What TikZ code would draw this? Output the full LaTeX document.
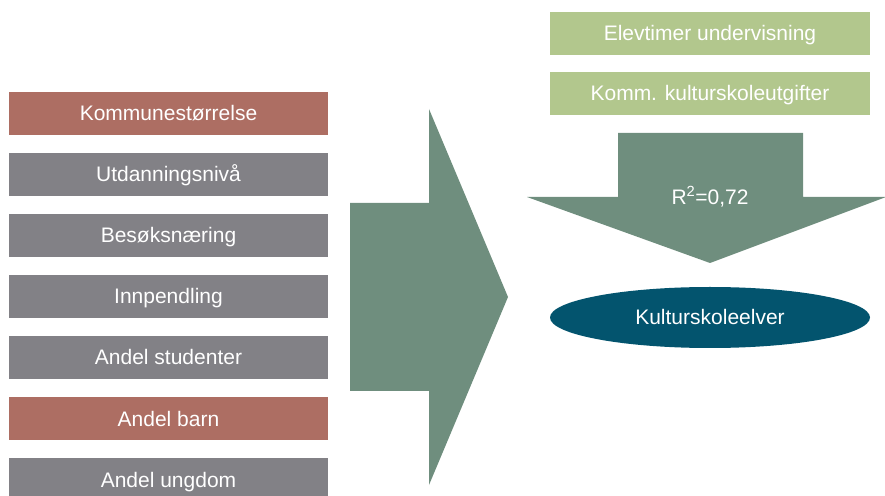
\documentclass[tikz,border=0pt]{standalone}
\usepackage{fontspec}
\setmainfont{Liberation Sans}
\usetikzlibrary{positioning,shapes.geometric}

\definecolor{faktorrod}{HTML}{AD6E63}
\definecolor{faktorgraa}{HTML}{828186}
\definecolor{lysgronn}{HTML}{B2C78D}
\definecolor{pilgronn}{HTML}{6F8E7E}
\definecolor{petrol}{HTML}{03546E}

\begin{document}
\begin{tikzpicture}[
            x=1pt, y=1pt,
            fak/.style={rectangle, minimum width=319pt, minimum height=43pt, inner sep=0pt,
                        text height=17pt, text depth=2pt,
                        text=white, font=\fontsize{21}{24}\selectfont},
            rod/.style={fak, fill=faktorrod},
            graa/.style={fak, fill=faktorgraa},
            gronn/.style={fak, fill=lysgronn, minimum width=320pt},
            mal/.style={ellipse, fill=petrol, minimum width=320pt, minimum height=61pt,
                        inner sep=0pt, text height=17pt, text depth=2pt,
                        text=white, font=\fontsize{21}{24}\selectfont},
            pil/.style={fill=pilgronn, draw=none}
        ]
        \useasboundingbox (0,0) rectangle (885,495);
        \clip (0,0) rectangle (885,495);

        % Forklaringsvariabler
        \node[rod]  (kom) at (168.5,381.5) {Kommunestørrelse};
        \node[graa] (utd) at (168.5,320.5) {Utdanningsnivå};
        \node[graa] (bes) at (168.5,259.5) {Besøksnæring};
        \node[graa] (inn) at (168.5,198.5) {Innpendling};
        \node[graa] (stu) at (168.5,137.5) {Andel studenter};
        \node[rod]  (bar) at (168.5,76.5)  {Andel barn};
        \node[graa] (ung) at (168.5,15.5)  {Andel ungdom};

        % Stor pil mot hoeyre
        \fill[pil] (350,292) -- (429,292) -- (429,386) -- (508,198)
                   -- (429,10) -- (429,104) -- (350,104) -- cycle;

        % Kulturskolevariabler
        \node[gronn] (elv) at (710,461.5) {Elevtimer undervisning};
        \node[gronn] (utg) at (710,401.5) {Komm. kulturskoleutgifter};

        % Pil ned
        \fill[pil] (618,362) -- (803,362) -- (803,298) -- (886,298)
                   -- (710,232) -- (527,298) -- (618,298) -- cycle;
        \node[text=white, font=\fontsize{21}{24}\selectfont, text height=17pt, text depth=2pt]
            (rsq) at (710,298) {R\textsuperscript{2}=0,72};

        % Avhengig variabel
        \node[mal] (kse) at (710,177.5) {Kulturskoleelver};
    \end{tikzpicture}
\end{document}
